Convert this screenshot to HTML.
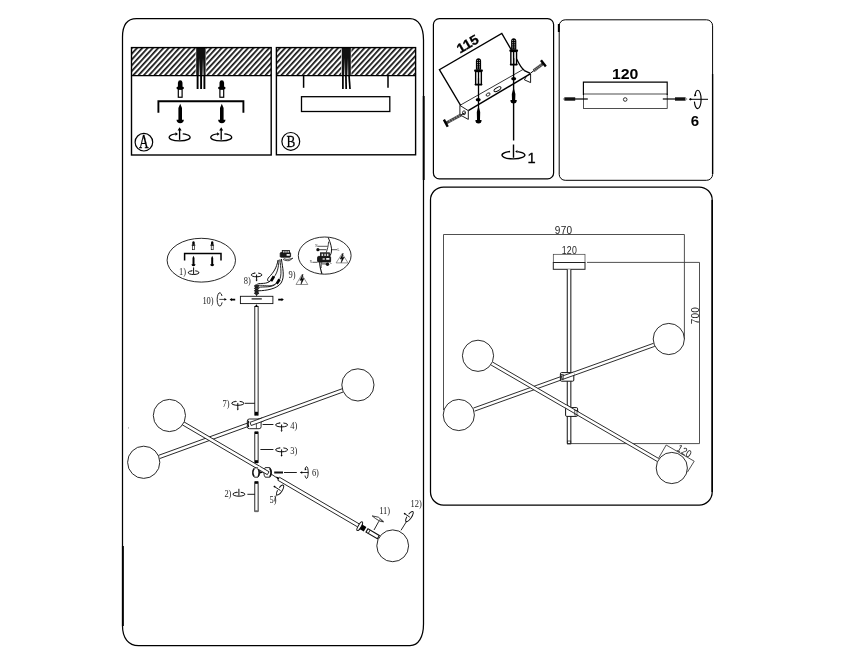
<!DOCTYPE html>
<html><head><meta charset="utf-8"><title>Assembly instructions</title>
<style>
html,body{margin:0;padding:0;background:#fff;}
body{width:860px;height:668px;overflow:hidden;}
svg{display:block;will-change:transform;}
</style></head><body>
<svg width="860" height="668" viewBox="0 0 860 668">
<rect x="0" y="0" width="860" height="668" fill="#fff"/>
<defs>
<pattern id="hatch" patternUnits="userSpaceOnUse" width="3.9" height="3.9" patternTransform="rotate(-47.5)">
<rect x="0" y="0" width="3.9" height="3.9" fill="#fff"/>
<rect x="0" y="0" width="3.9" height="1.7" fill="#111"/>
</pattern>
<linearGradient id="gapg" x1="0" y1="0" x2="0" y2="1"><stop offset="0" stop-color="#111"/><stop offset="1" stop-color="#d8d8d8"/></linearGradient>
</defs>
<path d="M 136.5,18.6 H 410 C 418.5,18.6 423.5,27 423.5,40 V 624 C 423.5,637 418.5,645.6 410,645.6 H 138.5 C 128.5,645.6 122.5,638 122.5,626 V 37 C 122.5,25 127.5,18.6 136.5,18.6 Z" fill="none" stroke="#000" stroke-width="1.25"/>
<line x1="423.70" y1="96.00" x2="423.70" y2="180.00" stroke="#000" stroke-width="1.9" />
<rect x="433.40" y="18.60" width="120.20" height="160.30" rx="6" fill="none" stroke="#000" stroke-width="1.2" />
<rect x="559.20" y="19.80" width="153.40" height="160.50" rx="6" fill="none" stroke="#000" stroke-width="1.0" />
<line x1="712.60" y1="74.00" x2="712.60" y2="174.00" stroke="#000" stroke-width="1.35" />
<line x1="558.80" y1="24.00" x2="558.80" y2="32.00" stroke="#000" stroke-width="1.9" />
<rect x="430.50" y="187.00" width="281.70" height="318.00" rx="13" fill="none" stroke="#000" stroke-width="1.25" />
<line x1="712.20" y1="200.00" x2="712.20" y2="492.00" stroke="#000" stroke-width="1.5" />
<rect x="131.5" y="47.6" width="139.7" height="27.9" fill="url(#hatch)" stroke="none"/>
<rect x="195.6" y="47.6" width="10.6" height="28" fill="#fff"/>
<rect x="196.2" y="47.6" width="9.4" height="28" fill="#111"/>
<rect x="198.8" y="58" width="1.2" height="18" fill="url(#gapg)"/>
<rect x="202.4" y="58" width="1.2" height="18" fill="url(#gapg)"/>
<line x1="197.60" y1="75.00" x2="197.60" y2="89.00" stroke="#000" stroke-width="1.9" />
<line x1="201.10" y1="75.00" x2="201.10" y2="89.00" stroke="#000" stroke-width="1.9" />
<line x1="204.40" y1="75.00" x2="204.40" y2="89.00" stroke="#000" stroke-width="1.9" />
<rect x="131.50" y="47.60" width="139.70" height="107.40" fill="none" stroke="#000" stroke-width="1.4" />
<line x1="131.50" y1="75.60" x2="271.20" y2="75.60" stroke="#000" stroke-width="1.3" />
<path d="M 177.90,87.16 V 82.64 Q 178.20,80.20 180.20,80.20 Q 182.20,80.20 182.50,82.64 V 87.16 Z" fill="#000"/>
<rect x="176.60" y="86.64" width="7.20" height="2.61" rx="0.90" fill="#000"/>
<rect x="178.30" y="89.25" width="3.80" height="8.00" fill="#fff" stroke="#000" stroke-width="1.20"/>
<path d="M 180.20,103.80 L 182.00,108.07 V 119.71 H 183.90 Q 183.60,123.20 180.20,123.20 Q 176.80,123.20 176.50,119.71 H 178.40 V 108.07 Z" fill="#000"/>
<g transform="translate(179.60,137.30) rotate(0)">
<path d="M -3.67,-3.35 A 10.50,3.60 0 1 0 3.15,-3.42" fill="none" stroke="#000" stroke-width="1.35"/>
<path d="M -1.57,-3.42 l -2.50,-1.75 l 0,3.50 z" fill="#000" stroke="none"/>
<line x1="0" y1="2.52" x2="0" y2="-8.40" stroke="#000" stroke-width="1.35"/>
<path d="M 0,-10.00 l -2.00,3.25 l 4.00,0 z" fill="#000"/>
</g>
<path d="M 219.50,87.16 V 82.64 Q 219.80,80.20 221.80,80.20 Q 223.80,80.20 224.10,82.64 V 87.16 Z" fill="#000"/>
<rect x="218.20" y="86.64" width="7.20" height="2.61" rx="0.90" fill="#000"/>
<rect x="219.90" y="89.25" width="3.80" height="8.00" fill="#fff" stroke="#000" stroke-width="1.20"/>
<path d="M 221.80,103.80 L 223.60,108.07 V 119.71 H 225.50 Q 225.20,123.20 221.80,123.20 Q 218.40,123.20 218.10,119.71 H 220.00 V 108.07 Z" fill="#000"/>
<g transform="translate(221.20,137.30) rotate(0)">
<path d="M -3.67,-3.35 A 10.50,3.60 0 1 0 3.15,-3.42" fill="none" stroke="#000" stroke-width="1.35"/>
<path d="M -1.57,-3.42 l -2.50,-1.75 l 0,3.50 z" fill="#000" stroke="none"/>
<line x1="0" y1="2.52" x2="0" y2="-8.40" stroke="#000" stroke-width="1.35"/>
<path d="M 0,-10.00 l -2.00,3.25 l 4.00,0 z" fill="#000"/>
</g>
<path d="M 158.4,112.8 V 101.3 H 243.4 V 112.8" fill="none" stroke="#000" stroke-width="1.9" />
<circle cx="143.90" cy="142.20" r="8.80" fill="none" stroke="#000" stroke-width="1.2"/>
<text x="143.90" y="148.40" font-family="'Liberation Serif', serif" font-size="18.6" font-weight="normal" text-anchor="middle" fill="#000" transform="translate(143.9 0) scale(0.72 1) translate(-143.9 0)" stroke="#000" stroke-width="0.3">A</text>
<rect x="276.4" y="47.6" width="139.20000000000005" height="27.9" fill="url(#hatch)" stroke="none"/>
<rect x="341.2" y="47.6" width="10.2" height="28" fill="#fff"/>
<rect x="341.8" y="47.6" width="9.0" height="28" fill="#111"/>
<rect x="344.0" y="58" width="1.1" height="18" fill="url(#gapg)"/>
<rect x="347.2" y="58" width="1.1" height="18" fill="url(#gapg)"/>
<line x1="342.90" y1="75.00" x2="342.90" y2="89.00" stroke="#000" stroke-width="1.7" />
<line x1="345.90" y1="75.00" x2="346.20" y2="89.00" stroke="#000" stroke-width="1.7" />
<line x1="349.00" y1="75.00" x2="350.00" y2="89.00" stroke="#000" stroke-width="1.7" />
<rect x="276.40" y="47.60" width="139.20" height="107.20" fill="none" stroke="#000" stroke-width="1.4" />
<line x1="276.40" y1="75.60" x2="415.60" y2="75.60" stroke="#000" stroke-width="1.3" />
<line x1="303.60" y1="75.60" x2="303.60" y2="87.80" stroke="#000" stroke-width="1.5" />
<line x1="388.00" y1="75.60" x2="388.00" y2="87.80" stroke="#000" stroke-width="1.5" />
<rect x="301.50" y="96.70" width="88.30" height="14.80" fill="none" stroke="#000" stroke-width="1.3" />
<circle cx="290.80" cy="141.40" r="8.90" fill="none" stroke="#000" stroke-width="1.2"/>
<text x="291.00" y="147.00" font-family="'Liberation Serif', serif" font-size="17.0" font-weight="normal" text-anchor="middle" fill="#000" transform="translate(291 0) scale(0.78 1) translate(-291 0)" stroke="#000" stroke-width="0.25">B</text>
<path d="M 460.6,105.4 L 439.4,69.7 L 501.8,33.4 L 517.3,60.3 Q 520.8,67.6 524.4,70.6 L 530.4,73.4" fill="none" stroke="#000" stroke-width="1.3" />
<text x="0.00" y="0.00" font-family="'Liberation Sans', sans-serif" font-size="13.3" font-weight="bold" text-anchor="middle" fill="#000" transform="translate(470.0 47.9) rotate(-30.2) scale(1.07 1)" stroke="#000" stroke-width="0.3">115</text>
<path d="M 459.9,105.4 L 523.2,69.4" fill="none" stroke="#000" stroke-width="0.8" />
<path d="M 468.3,110.7 L 530.6,73.7" fill="none" stroke="#000" stroke-width="1.5" />
<path d="M 459.9,105.4 L 468.3,110.7 L 468.3,119.4 L 459.9,114.8 Z" fill="#fff" stroke="#000" stroke-width="0.9" />
<path d="M 530.6,73.7 V 82.6 L 524.4,79.8 L 526.4,76.4" fill="none" stroke="#000" stroke-width="0.9" />
<ellipse cx="497.5" cy="89.2" rx="3.9" ry="1.6" transform="rotate(-30 497.5 89.2)" fill="#fff" stroke="#000" stroke-width="0.9"/>
<ellipse cx="488.1" cy="94.5" rx="2.2" ry="1.3" transform="rotate(-30 488.1 94.5)" fill="#fff" stroke="#000" stroke-width="0.8"/>
<ellipse cx="478.2" cy="99.8" rx="2.5" ry="1.7" fill="#000"/>
<ellipse cx="513.7" cy="78.8" rx="2.5" ry="1.7" fill="#000"/>
<ellipse cx="464.0" cy="112.8" rx="1.5" ry="2.0" fill="#fff" stroke="#000" stroke-width="0.8"/>
<path d="M 475.90,69.87 V 60.99 Q 476.10,58.30 478.50,58.30 Q 480.90,58.30 481.10,60.99 V 69.87 Z" fill="#000"/>
<rect x="477.05" y="60.18" width="0.9" height="0.91" fill="#c8c8c8"/>
<rect x="479.05" y="60.18" width="0.9" height="0.91" fill="#c8c8c8"/>
<rect x="477.05" y="62.01" width="0.9" height="0.91" fill="#c8c8c8"/>
<rect x="479.05" y="62.01" width="0.9" height="0.91" fill="#c8c8c8"/>
<rect x="477.05" y="63.84" width="0.9" height="0.91" fill="#c8c8c8"/>
<rect x="479.05" y="63.84" width="0.9" height="0.91" fill="#c8c8c8"/>
<rect x="477.05" y="65.67" width="0.9" height="0.91" fill="#c8c8c8"/>
<rect x="479.05" y="65.67" width="0.9" height="0.91" fill="#c8c8c8"/>
<rect x="477.05" y="67.50" width="0.9" height="0.91" fill="#c8c8c8"/>
<rect x="479.05" y="67.50" width="0.9" height="0.91" fill="#c8c8c8"/>
<rect x="474.10" y="69.60" width="8.8" height="2.15" rx="0.9" fill="#000"/>
<rect x="475.65" y="71.48" width="5.7" height="13.18" fill="#fff" stroke="#000" stroke-width="1.4"/>
<rect x="474.60" y="83.72" width="7.8" height="1.48" rx="0.6" fill="#000"/>
<rect x="477.90" y="78.21" width="1.2" height="5.92" fill="#000"/>
<line x1="478.50" y1="72.00" x2="478.50" y2="112.00" stroke="#000" stroke-width="1.3" />
<path d="M 478.5,105.5 L 480.2,112 L 480.0,120 H 481.6 Q 481.6,123.6 478.5,123.6 Q 475.4,123.6 475.4,120 H 477.0 L 476.8,112 Z" fill="#000"/>
<path d="M 511.10,49.81 V 40.90 Q 511.30,38.20 513.70,38.20 Q 516.10,38.20 516.30,40.90 V 49.81 Z" fill="#000"/>
<rect x="512.25" y="40.09" width="0.9" height="0.92" fill="#c8c8c8"/>
<rect x="514.25" y="40.09" width="0.9" height="0.92" fill="#c8c8c8"/>
<rect x="512.25" y="41.93" width="0.9" height="0.92" fill="#c8c8c8"/>
<rect x="514.25" y="41.93" width="0.9" height="0.92" fill="#c8c8c8"/>
<rect x="512.25" y="43.76" width="0.9" height="0.92" fill="#c8c8c8"/>
<rect x="514.25" y="43.76" width="0.9" height="0.92" fill="#c8c8c8"/>
<rect x="512.25" y="45.60" width="0.9" height="0.92" fill="#c8c8c8"/>
<rect x="514.25" y="45.60" width="0.9" height="0.92" fill="#c8c8c8"/>
<rect x="512.25" y="47.43" width="0.9" height="0.92" fill="#c8c8c8"/>
<rect x="514.25" y="47.43" width="0.9" height="0.92" fill="#c8c8c8"/>
<rect x="509.30" y="49.54" width="8.8" height="2.16" rx="0.9" fill="#000"/>
<rect x="510.85" y="51.43" width="5.7" height="13.23" fill="#fff" stroke="#000" stroke-width="1.4"/>
<rect x="509.80" y="63.72" width="7.8" height="1.49" rx="0.6" fill="#000"/>
<rect x="513.10" y="58.18" width="1.2" height="5.94" fill="#000"/>
<line x1="513.60" y1="52.00" x2="513.60" y2="140.50" stroke="#000" stroke-width="1.4" />
<path d="M 513.6,87.5 L 515.4,94 L 515.2,100.0 H 516.8 Q 516.8,103.6 513.6,103.6 Q 510.4,103.6 510.4,100.0 H 512.0 L 511.8,94 Z" fill="#000"/>
<line x1="465.40" y1="112.60" x2="459.52" y2="115.78" stroke="#000" stroke-width="1.0" />
<line x1="461.09" y1="114.93" x2="445.80" y2="123.20" stroke="#444" stroke-width="3.0" />
<line x1="459.79" y1="117.22" x2="458.46" y2="114.76" stroke="#bbb" stroke-width="0.6" />
<line x1="457.44" y1="118.50" x2="456.11" y2="116.03" stroke="#bbb" stroke-width="0.6" />
<line x1="455.09" y1="119.77" x2="453.76" y2="117.30" stroke="#bbb" stroke-width="0.6" />
<line x1="452.74" y1="121.04" x2="451.41" y2="118.58" stroke="#bbb" stroke-width="0.6" />
<line x1="450.39" y1="122.31" x2="449.05" y2="119.85" stroke="#bbb" stroke-width="0.6" />
<line x1="447.70" y1="126.72" x2="443.90" y2="119.68" stroke="#000" stroke-width="2.4" />
<line x1="530.90" y1="72.90" x2="534.65" y2="70.05" stroke="#000" stroke-width="1.0" />
<line x1="533.65" y1="70.81" x2="543.40" y2="63.40" stroke="#444" stroke-width="3.0" />
<line x1="534.05" y1="68.75" x2="535.75" y2="70.97" stroke="#bbb" stroke-width="0.6" />
<line x1="535.55" y1="67.61" x2="537.25" y2="69.83" stroke="#bbb" stroke-width="0.6" />
<line x1="537.05" y1="66.47" x2="538.75" y2="68.69" stroke="#bbb" stroke-width="0.6" />
<line x1="538.55" y1="65.33" x2="540.25" y2="67.55" stroke="#bbb" stroke-width="0.6" />
<line x1="540.05" y1="64.19" x2="541.75" y2="66.41" stroke="#bbb" stroke-width="0.6" />
<line x1="540.98" y1="60.22" x2="545.82" y2="66.58" stroke="#000" stroke-width="2.4" />
<g transform="translate(513.50,155.10) rotate(0) scale(-1 1)">
<path d="M -3.99,-3.53 A 11.40,3.80 0 1 0 3.42,-3.61" fill="none" stroke="#000" stroke-width="1.4"/>
<path d="M -1.71,-3.61 l -2.20,-1.54 l 0,3.08 z" fill="#000" stroke="none"/>
<line x1="0" y1="2.66" x2="0" y2="-10.60" stroke="#000" stroke-width="1.4"/>
</g>
<text x="527.60" y="162.60" font-family="'Liberation Sans', sans-serif" font-size="14.6" font-weight="normal" text-anchor="start" fill="#000" stroke="#000" stroke-width="0.35">1</text>
<rect x="583.40" y="94.00" width="83.80" height="14.40" fill="none" stroke="#222" stroke-width="0.8" />
<path d="M 583.4,95 V 82.1 H 667.2 V 95" fill="none" stroke="#000" stroke-width="1.15" />
<text x="625.20" y="79.40" font-family="'Liberation Sans', sans-serif" font-size="14.8" font-weight="bold" text-anchor="middle" fill="#000" textLength="26.5" lengthAdjust="spacingAndGlyphs">120</text>
<circle cx="625.20" cy="99.50" r="1.80" fill="#fff" stroke="#000" stroke-width="0.8"/>
<path d="M 562.6,99.0 L 564.6,97.4 V 100.6 Z" fill="#999"/>
<line x1="564.40" y1="99.00" x2="575.20" y2="99.00" stroke="#111" stroke-width="3.4" />
<line x1="575.00" y1="99.00" x2="587.80" y2="99.00" stroke="#000" stroke-width="1.2" />
<line x1="662.80" y1="99.00" x2="675.50" y2="99.00" stroke="#000" stroke-width="1.2" />
<line x1="675.00" y1="99.00" x2="685.60" y2="99.00" stroke="#111" stroke-width="3.4" />
<path d="M 687.6,99.0 L 685.4,97.2 V 100.8 Z" fill="#999"/>
<line x1="690.00" y1="99.30" x2="708.00" y2="99.30" stroke="#000" stroke-width="1.0" />
<path d="M 688.8,99.3 l 1.6,-1.3 l 1.6,1.3 l -1.6,1.3 z" fill="#000"/>
<path d="M 695.0,96.0 C 695.4,92.6 696.4,90.2 697.7,90.2 C 699.6,90.2 701.1,94.3 701.1,99.4 C 701.1,104.5 699.6,108.6 697.7,108.6 C 696.0,108.6 694.8,105.6 694.4,101.6" fill="none" stroke="#000" stroke-width="1.15"/>
<path d="M 694.2,96.6 l 0.4,-2.6 l 1.9,1.8 z" fill="#000"/>
<text x="695.00" y="125.80" font-family="'Liberation Sans', sans-serif" font-size="15.0" font-weight="bold" text-anchor="middle" fill="#000" >6</text>
<path d="M 443.5,410 V 234.5 H 684.4 V 339" fill="none" stroke="#3c3c3c" stroke-width="0.9" />
<text x="0.00" y="0.00" font-family="'Liberation Sans', sans-serif" font-size="10.8" font-weight="normal" text-anchor="middle" fill="#222" transform="translate(563.6 234.4) scale(0.93 1)" letter-spacing="0.3">970</text>
<text x="0.00" y="0.00" font-family="'Liberation Sans', sans-serif" font-size="10.2" font-weight="normal" text-anchor="middle" fill="#222" transform="translate(569.4 254.1) scale(0.86 1)" letter-spacing="0.3">120</text>
<rect x="553.30" y="254.30" width="31.70" height="8.20" fill="none" stroke="#3c3c3c" stroke-width="0.7" />
<rect x="553.30" y="262.50" width="31.70" height="6.80" fill="none" stroke="#222" stroke-width="1.0" />
<path d="M 587.0,262.4 H 699.5 V 443.6 H 571.0" fill="none" stroke="#3c3c3c" stroke-width="0.9" />
<text x="0.00" y="0.00" font-family="'Liberation Sans', sans-serif" font-size="10.8" font-weight="normal" text-anchor="middle" fill="#222" transform="translate(699.0 315.6) rotate(-90) scale(0.93 1)" letter-spacing="0.3">700</text>
<polygon points="567.25,269.30 567.25,443.70 570.85,443.70 570.85,269.30" fill="#fff" stroke="none"/>
<line x1="567.25" y1="269.30" x2="567.25" y2="443.70" stroke="#111" stroke-width="1.0" />
<line x1="570.85" y1="269.30" x2="570.85" y2="443.70" stroke="#111" stroke-width="1.0" />
<line x1="567.25" y1="443.70" x2="570.85" y2="443.70" stroke="#111" stroke-width="1.0" />
<rect x="567.40" y="441.00" width="3.40" height="2.90" fill="none" stroke="#222" stroke-width="0.7" />
<polygon points="474.56,411.15 654.76,346.35 653.64,343.25 473.44,408.05" fill="#fff" stroke="none"/>
<line x1="474.56" y1="411.15" x2="654.76" y2="346.35" stroke="#161616" stroke-width="0.9" />
<line x1="473.44" y1="408.05" x2="653.64" y2="343.25" stroke="#161616" stroke-width="0.9" />
<polygon points="491.07,365.03 657.17,461.43 658.83,458.57 492.73,362.17" fill="#fff" stroke="none"/>
<line x1="491.07" y1="365.03" x2="657.17" y2="461.43" stroke="#161616" stroke-width="0.9" />
<line x1="492.73" y1="362.17" x2="658.83" y2="458.57" stroke="#161616" stroke-width="0.9" />
<circle cx="478.00" cy="355.80" r="15.60" fill="#fff" stroke="#161616" stroke-width="0.9"/>
<circle cx="458.80" cy="415.00" r="15.60" fill="#fff" stroke="#161616" stroke-width="0.9"/>
<circle cx="668.80" cy="339.00" r="15.60" fill="#fff" stroke="#161616" stroke-width="0.9"/>
<circle cx="671.80" cy="468.00" r="15.60" fill="#fff" stroke="#161616" stroke-width="0.9"/>
<rect x="560.40" y="372.60" width="13.40" height="8.60" rx="1.2" fill="#fff" stroke="#111" stroke-width="1.0" />
<polygon points="562.56,379.45 574.56,375.15 573.44,372.05 561.44,376.35" fill="#fff" stroke="none"/>
<line x1="562.56" y1="379.45" x2="574.56" y2="375.15" stroke="#161616" stroke-width="0.9" />
<line x1="561.44" y1="376.35" x2="573.44" y2="372.05" stroke="#161616" stroke-width="0.9" />
<line x1="562.56" y1="379.45" x2="561.44" y2="376.35" stroke="#161616" stroke-width="0.9" />
<rect x="561.20" y="374.60" width="2.00" height="5.00" fill="none" stroke="#222" stroke-width="0.7" />
<rect x="565.60" y="407.60" width="12.00" height="8.80" rx="1.2" fill="#fff" stroke="#111" stroke-width="1.0" />
<polygon points="565.17,407.92 577.67,415.22 579.33,412.38 566.83,405.08" fill="#fff" stroke="none"/>
<line x1="565.17" y1="407.92" x2="577.67" y2="415.22" stroke="#161616" stroke-width="0.9" />
<line x1="566.83" y1="405.08" x2="579.33" y2="412.38" stroke="#161616" stroke-width="0.9" />
<rect x="574.80" y="410.40" width="2.20" height="4.60" fill="none" stroke="#222" stroke-width="0.7" />
<path d="M 658.7,458.0 L 666.2,445.0 L 694.2,461.2 L 687.4,472.2" fill="none" stroke="#3c3c3c" stroke-width="0.9" />
<text x="0.00" y="0.00" font-family="'Liberation Sans', sans-serif" font-size="10.2" font-weight="normal" text-anchor="middle" fill="#222" transform="translate(682.6 454.2) rotate(30) scale(0.86 1)" letter-spacing="0.3">120</text>
<ellipse cx="201.30" cy="260.20" rx="34.20" ry="21.90" fill="none" stroke="#111" stroke-width="0.9" />
<path d="M 184.6,260.6 V 253.5 H 221.0 V 260.6" fill="none" stroke="#000" stroke-width="1.5" />
<path d="M 192.30,244.68 V 242.42 Q 192.46,241.20 193.50,241.20 Q 194.54,241.20 194.70,242.42 V 244.68 Z" fill="#000"/>
<rect x="191.63" y="244.42" width="3.74" height="1.31" rx="0.47" fill="#000"/>
<rect x="192.51" y="245.72" width="1.98" height="4.00" fill="#fff" stroke="#000" stroke-width="0.62"/>
<path d="M 193.50,255.80 L 194.49,258.09 V 264.33 H 195.53 Q 195.37,266.20 193.50,266.20 Q 191.63,266.20 191.47,264.33 H 192.51 V 258.09 Z" fill="#000"/>
<path d="M 211.00,244.68 V 242.42 Q 211.16,241.20 212.20,241.20 Q 213.24,241.20 213.40,242.42 V 244.68 Z" fill="#000"/>
<rect x="210.33" y="244.42" width="3.74" height="1.31" rx="0.47" fill="#000"/>
<rect x="211.21" y="245.72" width="1.98" height="4.00" fill="#fff" stroke="#000" stroke-width="0.62"/>
<path d="M 212.20,255.80 L 213.19,258.09 V 264.33 H 214.23 Q 214.07,266.20 212.20,266.20 Q 210.33,266.20 210.16,264.33 H 211.21 V 258.09 Z" fill="#000"/>
<text x="0.00" y="0.00" font-family="'Liberation Serif', serif" font-size="9.6" font-weight="normal" text-anchor="start" fill="#222" transform="translate(179.00 274.80) scale(0.88 1)">1)</text>
<g transform="translate(193.60,272.60) rotate(0)">
<path d="M -1.89,-1.77 A 5.40,1.90 0 1 0 1.62,-1.80" fill="none" stroke="#000" stroke-width="0.95"/>
<path d="M -0.81,-1.80 l -1.30,-0.91 l 0,1.82 z" fill="#000" stroke="none"/>
<line x1="0" y1="1.33" x2="0" y2="-5.20" stroke="#000" stroke-width="0.95"/>
</g>
<ellipse cx="324.70" cy="255.60" rx="26.40" ry="18.60" fill="none" stroke="#111" stroke-width="0.9" />
<path d="M 328.3,237.6 C 330.4,243 332.2,248 331.4,252 C 330.8,255 329.8,256 329.0,257.2" fill="none" stroke="#111" stroke-width="1.0" />
<path d="M 328.6,241.6 C 328.4,246 327.4,249 326.2,252.6" fill="none" stroke="#111" stroke-width="0.8" />
<path d="M 320.0,260.6 C 319.0,265 320.6,269 321.9,273.8" fill="none" stroke="#111" stroke-width="1.1" />
<path d="M 322.2,261.0 C 321.0,264 321.4,266.0 321.2,268.0" fill="none" stroke="#111" stroke-width="0.7" />
<rect x="317.60" y="256.40" width="13.00" height="5.60" rx="1" fill="#1a1a1a" stroke="#111" stroke-width="0.9" />
<rect x="320.40" y="252.80" width="9.00" height="4.00" fill="#333" stroke="#111" stroke-width="0.8" />
<rect x="321.60" y="253.80" width="1.40" height="2.20" fill="#ddd" stroke="#111" stroke-width="0" />
<rect x="324.40" y="253.80" width="1.40" height="2.20" fill="#ddd" stroke="#111" stroke-width="0" />
<rect x="327.00" y="253.80" width="1.40" height="2.20" fill="#ddd" stroke="#111" stroke-width="0" />
<rect x="322.60" y="258.20" width="2.20" height="1.60" fill="#ccc" stroke="#111" stroke-width="0" />
<rect x="326.20" y="258.00" width="3.20" height="1.80" fill="#eee" stroke="#111" stroke-width="0" />
<circle cx="317.90" cy="249.70" r="1.60" fill="#111" stroke="#111" stroke-width="0"/>
<line x1="317.40" y1="246.30" x2="327.60" y2="246.30" stroke="#111" stroke-width="0.7" />
<line x1="317.90" y1="249.70" x2="326.40" y2="249.70" stroke="#111" stroke-width="0.8" />
<circle cx="327.50" cy="264.20" r="1.70" fill="#111" stroke="#111" stroke-width="0"/>
<line x1="322.00" y1="263.90" x2="327.50" y2="263.90" stroke="#111" stroke-width="0.8" />
<line x1="312.40" y1="262.30" x2="317.60" y2="262.30" stroke="#111" stroke-width="0.7" />
<line x1="332.00" y1="249.70" x2="337.20" y2="249.70" stroke="#111" stroke-width="0.7" />
<text x="316.40" y="246.60" font-family="'Liberation Serif', serif" font-size="3.0" font-weight="normal" text-anchor="middle" fill="#222" >N</text>
<text x="338.40" y="250.80" font-family="'Liberation Serif', serif" font-size="3.0" font-weight="normal" text-anchor="middle" fill="#222" >L</text>
<text x="310.80" y="263.40" font-family="'Liberation Serif', serif" font-size="3.0" font-weight="normal" text-anchor="middle" fill="#222" >N</text>
<text x="331.20" y="263.80" font-family="'Liberation Serif', serif" font-size="3.0" font-weight="normal" text-anchor="middle" fill="#222" >L</text>
<path d="M 342.10,253.70 L 348.10,262.90 H 336.10 Z" fill="none" stroke="#666" stroke-width="0.7" />
<path d="M 343.10,253.15 L 340.10,259.04 L 342.00,258.48 L 341.20,262.72 L 344.20,257.20 L 342.30,257.75 Z" fill="#000" stroke="#000" stroke-width="0.5" stroke-linejoin="round"/>
<path d="M 301.90,274.70 L 307.80,284.50 H 296.00 Z" fill="none" stroke="#666" stroke-width="0.7" />
<path d="M 302.90,274.11 L 299.90,280.38 L 301.80,279.80 L 301.00,284.30 L 304.00,278.42 L 302.10,279.01 Z" fill="#000" stroke="#000" stroke-width="0.5" stroke-linejoin="round"/>
<text x="0.00" y="0.00" font-family="'Liberation Serif', serif" font-size="9.6" font-weight="normal" text-anchor="start" fill="#222" transform="translate(288.60 277.80) scale(0.88 1)">9)</text>
<rect x="280.20" y="252.60" width="10.40" height="4.60" rx="0.8" fill="#1a1a1a" stroke="#111" stroke-width="0.8" />
<rect x="282.20" y="250.40" width="7.40" height="2.80" fill="#333" stroke="#111" stroke-width="0.7" />
<rect x="283.20" y="251.00" width="1.20" height="1.60" fill="#ddd" stroke="#111" stroke-width="0" />
<rect x="285.40" y="251.00" width="1.20" height="1.60" fill="#ddd" stroke="#111" stroke-width="0" />
<rect x="287.60" y="251.00" width="1.20" height="1.60" fill="#ddd" stroke="#111" stroke-width="0" />
<rect x="286.60" y="254.00" width="3.20" height="1.80" fill="#eee" stroke="#111" stroke-width="0" />
<path d="M 283.6,258.0 C 286,260.2 289,259.4 292.8,258.2 L 289.4,260.6 C 287,261 285,260.4 283.0,259.4" fill="#fff" stroke="#111" stroke-width="0.8" />
<path d="M 281.4,259.0 C 282.4,267 285.2,277 281.0,283.1 C 277,289 266,290.6 258.6,290.8" fill="none" stroke="#111" stroke-width="1.0" />
<path d="M 280.0,259.4 C 280.6,268 282.2,275 279.2,280.6" fill="none" stroke="#111" stroke-width="0.9" />
<path d="M 279.0,259.8 C 278.6,268 277,273.4 274.0,277.0" fill="none" stroke="#111" stroke-width="0.9" />
<path d="M 278.0,260.0 C 276.8,268 273,273 269.3,276.8 C 266.6,279.6 267.2,281.6 269.6,281.2" fill="none" stroke="#111" stroke-width="1.0" />
<path d="M 270.6,280.8 C 266,284.6 261,282.8 257.4,284.0" fill="none" stroke="#111" stroke-width="1.0" />
<path d="M 276.4,283.2 C 272,288.4 263.6,286.2 258.4,287.4" fill="none" stroke="#111" stroke-width="1.0" />
<path d="M 257.8,285.4 C 264,284.8 270,287.4 275.4,284.0" fill="none" stroke="#111" stroke-width="0.8" />
<path d="M 269.8,280.4 L 272.8,275.6 L 275.0,277.2 L 272.2,281.8 Z" fill="#000"/>
<path d="M 275.6,283.2 L 278.4,278.6 L 280.6,280.2 L 277.8,284.6 Z" fill="#000"/>
<text x="0.00" y="0.00" font-family="'Liberation Serif', serif" font-size="9.6" font-weight="normal" text-anchor="start" fill="#222" transform="translate(243.80 283.90) scale(0.88 1)">8)</text>
<g transform="translate(256.60,274.90) rotate(0)">
<path d="M -1.85,-1.77 A 5.30,1.90 0 1 0 1.59,-1.80" fill="none" stroke="#000" stroke-width="0.95"/>
<path d="M -0.79,-1.80 l -1.30,-0.91 l 0,1.82 z" fill="#000" stroke="none"/>
<line x1="0" y1="-0.38" x2="0" y2="5.00" stroke="#000" stroke-width="0.95"/>
<path d="M 0,6.60 l -1.04,-1.69 l 2.08,0 z" fill="#000"/>
</g>
<line x1="256.60" y1="284.60" x2="256.60" y2="296.20" stroke="#111" stroke-width="0.9" />
<ellipse cx="256.60" cy="286.00" rx="2.10" ry="1.10" fill="#333" stroke="#111" stroke-width="0.9" />
<ellipse cx="256.60" cy="288.40" rx="2.10" ry="1.10" fill="#333" stroke="#111" stroke-width="0.9" />
<ellipse cx="256.60" cy="290.80" rx="2.10" ry="1.10" fill="#333" stroke="#111" stroke-width="0.9" />
<ellipse cx="256.60" cy="293.20" rx="2.10" ry="1.10" fill="#333" stroke="#111" stroke-width="0.9" />
<rect x="240.40" y="296.30" width="32.50" height="7.30" fill="#fff" stroke="#111" stroke-width="0.9" />
<line x1="251.60" y1="298.90" x2="261.80" y2="298.90" stroke="#111" stroke-width="1.2" />
<text x="0.00" y="0.00" font-family="'Liberation Serif', serif" font-size="9.6" font-weight="normal" text-anchor="start" fill="#222" transform="translate(202.40 303.50) scale(0.88 1)">10)</text>
<path d="M 222.0,296.0 A 2.6,6.7 0 1 0 222.1,302.4" fill="none" stroke="#111" stroke-width="0.9"/>
<line x1="219.30" y1="299.40" x2="225.00" y2="299.40" stroke="#111" stroke-width="0.8" />
<path d="M 226.8,299.4 l -2.4,-1.3 v 2.6 z" fill="#000"/>
<path d="M 229.6,299.6 l 2.2,-1.6 v 0.8 h 3.4 v 1.6 h -3.4 v 0.8 z" fill="#000"/>
<path d="M 283.8,299.6 l -2.2,-1.6 v 0.8 h -3.4 v 1.6 h 3.4 v 0.8 z" fill="#000"/>
<polygon points="254.75,306.00 254.75,415.60 258.15,415.60 258.15,306.00" fill="#fff" stroke="none"/>
<line x1="254.75" y1="306.00" x2="254.75" y2="415.60" stroke="#111" stroke-width="0.9" />
<line x1="258.15" y1="306.00" x2="258.15" y2="415.60" stroke="#111" stroke-width="0.9" />
<path d="M 256.45,304.2 l 1.9,2.8 h -3.8 z" fill="#000"/>
<rect x="254.95" y="411.8" width="3.0" height="3.8" fill="#000"/>
<text x="0.00" y="0.00" font-family="'Liberation Serif', serif" font-size="9.6" font-weight="normal" text-anchor="start" fill="#222" transform="translate(222.60 407.10) scale(0.88 1)">7)</text>
<g transform="translate(237.80,403.30) rotate(0)">
<path d="M -2.13,-1.86 A 6.10,2.00 0 1 0 1.83,-1.90" fill="none" stroke="#000" stroke-width="0.95"/>
<path d="M -0.91,-1.90 l -1.30,-0.91 l 0,1.82 z" fill="#000" stroke="none"/>
<line x1="0" y1="-0.40" x2="0" y2="5.60" stroke="#000" stroke-width="0.95"/>
<path d="M 0,7.20 l -1.04,-1.69 l 2.08,0 z" fill="#000"/>
</g>
<line x1="244.80" y1="403.30" x2="254.80" y2="403.30" stroke="#111" stroke-width="0.95" />
<polygon points="159.58,458.60 343.18,392.00 342.02,388.80 158.42,455.40" fill="#fff" stroke="none"/>
<line x1="159.58" y1="458.60" x2="343.18" y2="392.00" stroke="#111" stroke-width="0.9" />
<line x1="158.42" y1="455.40" x2="342.02" y2="388.80" stroke="#111" stroke-width="0.9" />
<rect x="247.30" y="419.00" width="13.80" height="9.70" rx="2.0" fill="#fff" stroke="#111" stroke-width="0.9" />
<polygon points="251.18,425.50 263.58,421.00 262.42,417.80 250.02,422.30" fill="#fff" stroke="none"/>
<line x1="251.18" y1="425.50" x2="263.58" y2="421.00" stroke="#111" stroke-width="0.9" />
<line x1="250.02" y1="422.30" x2="262.42" y2="417.80" stroke="#111" stroke-width="0.9" />
<line x1="251.18" y1="425.50" x2="250.02" y2="422.30" stroke="#111" stroke-width="0.9" />
<path d="M 248.6,420.8 C 247.8,423 247.8,425 248.6,427.0" fill="none" stroke="#111" stroke-width="1.4" />
<line x1="256.40" y1="424.00" x2="256.40" y2="428.60" stroke="#111" stroke-width="0.7" />
<line x1="262.60" y1="424.50" x2="273.40" y2="424.50" stroke="#111" stroke-width="0.95" />
<g transform="translate(281.60,424.90) rotate(0)">
<path d="M -2.10,-1.86 A 6.00,2.00 0 1 0 1.80,-1.90" fill="none" stroke="#000" stroke-width="0.95"/>
<path d="M -0.90,-1.90 l -1.30,-0.91 l 0,1.82 z" fill="#000" stroke="none"/>
<line x1="0" y1="-0.40" x2="0" y2="5.40" stroke="#000" stroke-width="0.95"/>
<path d="M 0,7.00 l -1.04,-1.69 l 2.08,0 z" fill="#000"/>
</g>
<text x="0.00" y="0.00" font-family="'Liberation Serif', serif" font-size="9.6" font-weight="normal" text-anchor="start" fill="#222" transform="translate(290.20 429.30) scale(0.88 1)">4)</text>
<polygon points="254.75,431.60 254.75,463.00 258.15,463.00 258.15,431.60" fill="#fff" stroke="none"/>
<line x1="254.75" y1="431.60" x2="254.75" y2="463.00" stroke="#111" stroke-width="0.9" />
<line x1="258.15" y1="431.60" x2="258.15" y2="463.00" stroke="#111" stroke-width="0.9" />
<rect x="254.95" y="431.4" width="3.0" height="2.6" fill="#000"/>
<rect x="254.95" y="460.2" width="3.0" height="3.0" fill="#000"/>
<line x1="260.40" y1="449.50" x2="273.40" y2="449.50" stroke="#111" stroke-width="0.95" />
<g transform="translate(281.60,449.80) rotate(0)">
<path d="M -2.10,-1.86 A 6.00,2.00 0 1 0 1.80,-1.90" fill="none" stroke="#000" stroke-width="0.95"/>
<path d="M -0.90,-1.90 l -1.30,-0.91 l 0,1.82 z" fill="#000" stroke="none"/>
<line x1="0" y1="-0.40" x2="0" y2="5.40" stroke="#000" stroke-width="0.95"/>
<path d="M 0,7.00 l -1.04,-1.69 l 2.08,0 z" fill="#000"/>
</g>
<text x="0.00" y="0.00" font-family="'Liberation Serif', serif" font-size="9.6" font-weight="normal" text-anchor="start" fill="#222" transform="translate(290.20 454.20) scale(0.88 1)">3)</text>
<polygon points="182.34,424.87 257.74,469.02 259.46,466.08 184.06,421.93" fill="#fff" stroke="none"/>
<line x1="182.34" y1="424.87" x2="257.74" y2="469.02" stroke="#111" stroke-width="0.9" />
<line x1="184.06" y1="421.93" x2="259.46" y2="466.08" stroke="#111" stroke-width="0.9" />
<polygon points="277.54,480.07 357.54,526.87 359.26,523.93 279.26,477.13" fill="#fff" stroke="none"/>
<line x1="277.54" y1="480.07" x2="357.54" y2="526.87" stroke="#111" stroke-width="0.9" />
<line x1="279.26" y1="477.13" x2="359.26" y2="523.93" stroke="#111" stroke-width="0.9" />
<path d="M 276.0,476.6 L 279.6,477.8 L 278.2,480.2 Z" fill="#000"/>
<path d="M 254.6,467.9 H 258.0 C 259.8,469.8 259.8,475.4 258.0,477.2 H 254.6 C 252.0,475.4 252.0,469.8 254.6,467.9 Z" fill="#fff" stroke="#111" stroke-width="0.9"/>
<path d="M 254.2,468.6 C 252.6,470.8 252.6,474.4 254.2,476.6" fill="none" stroke="#111" stroke-width="1.5"/>
<path d="M 258.0,468.6 C 259.6,470.6 259.6,474.6 258.0,476.6" fill="none" stroke="#111" stroke-width="1.5"/>
<path d="M 265.2,467.6 H 269.8 C 271.8,469.6 271.8,475.4 269.8,477.2 H 265.2 C 263.4,475.4 263.4,469.6 265.2,467.6 Z" fill="#fff" stroke="#111" stroke-width="0.9"/>
<path d="M 269.6,468.2 C 271.6,470.4 271.6,474.6 269.6,476.8" fill="none" stroke="#111" stroke-width="1.6"/>
<path d="M 260.0,471.2 L 263.2,472.4 L 260.0,473.6 Z" fill="#000"/>
<polygon points="257.74,469.02 267.34,474.67 269.06,471.73 259.46,466.08" fill="#fff" stroke="none"/>
<line x1="257.74" y1="469.02" x2="267.34" y2="474.67" stroke="#111" stroke-width="0.9" />
<line x1="259.46" y1="466.08" x2="269.06" y2="471.73" stroke="#111" stroke-width="0.9" />
<line x1="267.34" y1="474.67" x2="269.06" y2="471.73" stroke="#111" stroke-width="0.9" />
<line x1="271.40" y1="474.20" x2="278.00" y2="478.60" stroke="#111" stroke-width="0.9" />
<line x1="274.20" y1="472.50" x2="283.00" y2="472.50" stroke="#111" stroke-width="2.0" />
<line x1="284.00" y1="472.50" x2="296.80" y2="472.50" stroke="#111" stroke-width="0.95" />
<line x1="301.40" y1="472.50" x2="308.40" y2="472.50" stroke="#111" stroke-width="0.9" />
<path d="M 299.8,472.5 l 2.4,-1.3 v 2.6 z" fill="#000"/>
<path d="M 305.0,469.4 C 305.4,467.6 305.9,466.7 306.5,466.7 C 307.5,466.7 308.2,469.3 308.2,472.5 C 308.2,475.7 307.5,478.4 306.5,478.4 C 305.9,478.4 305.4,477.4 305.0,475.6" fill="none" stroke="#111" stroke-width="0.95"/>
<path d="M 304.6,470.2 l 1.0,-2.2 l 0.9,2.0 z" fill="#000"/>
<text x="0.00" y="0.00" font-family="'Liberation Serif', serif" font-size="9.6" font-weight="normal" text-anchor="start" fill="#222" transform="translate(311.90 475.60) scale(0.88 1)">6)</text>
<polygon points="254.75,481.40 254.75,511.60 258.15,511.60 258.15,481.40" fill="#fff" stroke="none"/>
<line x1="254.75" y1="481.40" x2="254.75" y2="511.60" stroke="#111" stroke-width="0.9" />
<line x1="258.15" y1="481.40" x2="258.15" y2="511.60" stroke="#111" stroke-width="0.9" />
<line x1="254.75" y1="511.60" x2="258.15" y2="511.60" stroke="#111" stroke-width="0.9" />
<rect x="254.95" y="481.2" width="3.0" height="2.6" fill="#000"/>
<rect x="254.75" y="510.2" width="3.4" height="1.6" fill="#777"/>
<text x="0.00" y="0.00" font-family="'Liberation Serif', serif" font-size="9.6" font-weight="normal" text-anchor="start" fill="#222" transform="translate(224.40 497.40) scale(0.88 1)">2)</text>
<g transform="translate(238.90,494.20) rotate(0)">
<path d="M -2.10,-1.86 A 6.00,2.00 0 1 0 1.80,-1.90" fill="none" stroke="#000" stroke-width="0.95"/>
<path d="M -0.90,-1.90 l -1.30,-0.91 l 0,1.82 z" fill="#000" stroke="none"/>
<line x1="0" y1="1.40" x2="0" y2="-5.40" stroke="#000" stroke-width="0.95"/>
</g>
<line x1="247.40" y1="494.30" x2="254.80" y2="494.30" stroke="#111" stroke-width="0.95" />
<text x="0.00" y="0.00" font-family="'Liberation Serif', serif" font-size="9.6" font-weight="normal" text-anchor="start" fill="#222" transform="translate(269.60 503.10) scale(0.88 1)">5)</text>
<g transform="translate(280.0 490.2) rotate(-57)">
<path d="M -1.4,-2.0 A 5.8,2.1 0 1 0 1.8,-2.0" fill="none" stroke="#111" stroke-width="0.95"/>
<line x1="0" y1="-6.4" x2="0" y2="0.6" stroke="#111" stroke-width="0.9"/>
<circle cx="0" cy="-6.6" r="0.9" fill="#000"/>
</g>
<path d="M 276.8,494.4 C 275.2,497 274.6,499.4 274.8,501.4" fill="none" stroke="#111" stroke-width="0.8" />
<g transform="translate(360.6 526.7) rotate(30.4)">
<ellipse cx="-1.0" cy="0" rx="1.5" ry="5.0" fill="#fff" stroke="#111" stroke-width="1.0"/>
<path d="M 0.2,-3.6 C 1.2,-2.0 1.2,2.0 0.2,3.6" fill="none" stroke="#111" stroke-width="0.9"/>
<rect x="0.8" y="-2.6" width="4.4" height="5.2" fill="#000"/>
<rect x="7.4" y="-1.9" width="13.2" height="3.8" fill="#fff" stroke="#111" stroke-width="1.15"/>
<line x1="10.0" y1="-1.9" x2="10.0" y2="1.9" stroke="#111" stroke-width="0.8"/>
</g>
<text x="0.00" y="0.00" font-family="'Liberation Serif', serif" font-size="9.6" font-weight="normal" text-anchor="start" fill="#222" transform="translate(379.20 513.60) scale(0.88 1)">11)</text>
<line x1="374.00" y1="530.00" x2="378.90" y2="521.20" stroke="#111" stroke-width="0.9" />
<path d="M 372.2,515.9 L 378.4,517.2 L 383.6,521.8 L 379.6,521.0 L 375.6,518.6 Z" fill="#fff" stroke="#111" stroke-width="0.8" />
<line x1="380.40" y1="518.80" x2="379.40" y2="520.80" stroke="#111" stroke-width="0.6" />
<line x1="381.80" y1="519.80" x2="380.80" y2="521.60" stroke="#111" stroke-width="0.6" />
<line x1="383.00" y1="520.80" x2="382.20" y2="522.20" stroke="#111" stroke-width="0.6" />
<text x="0.00" y="0.00" font-family="'Liberation Serif', serif" font-size="9.6" font-weight="normal" text-anchor="start" fill="#222" transform="translate(410.60 507.30) scale(0.88 1)">12)</text>
<line x1="401.00" y1="530.30" x2="406.80" y2="521.00" stroke="#111" stroke-width="0.9" />
<g transform="translate(409.3 516.8) rotate(-56)">
<path d="M -1.4,-2.0 A 6.1,2.1 0 1 0 1.8,-2.0" fill="none" stroke="#111" stroke-width="0.95"/>
<line x1="0" y1="-5.4" x2="0" y2="0.6" stroke="#111" stroke-width="0.9"/>
<circle cx="0" cy="-5.6" r="0.85" fill="#000"/>
</g>
<circle cx="169.40" cy="415.50" r="16.10" fill="#fff" stroke="#111" stroke-width="0.9"/>
<circle cx="143.70" cy="462.30" r="16.10" fill="#fff" stroke="#111" stroke-width="0.9"/>
<circle cx="357.90" cy="384.90" r="16.10" fill="#fff" stroke="#111" stroke-width="0.9"/>
<circle cx="392.70" cy="545.80" r="15.90" fill="#fff" stroke="#111" stroke-width="0.9"/>
<line x1="122.90" y1="546.00" x2="122.90" y2="626.00" stroke="#000" stroke-width="1.9" />
<rect x="128.0" y="427.2" width="0.8" height="1.4" fill="#999"/>
</svg>
</body></html>
